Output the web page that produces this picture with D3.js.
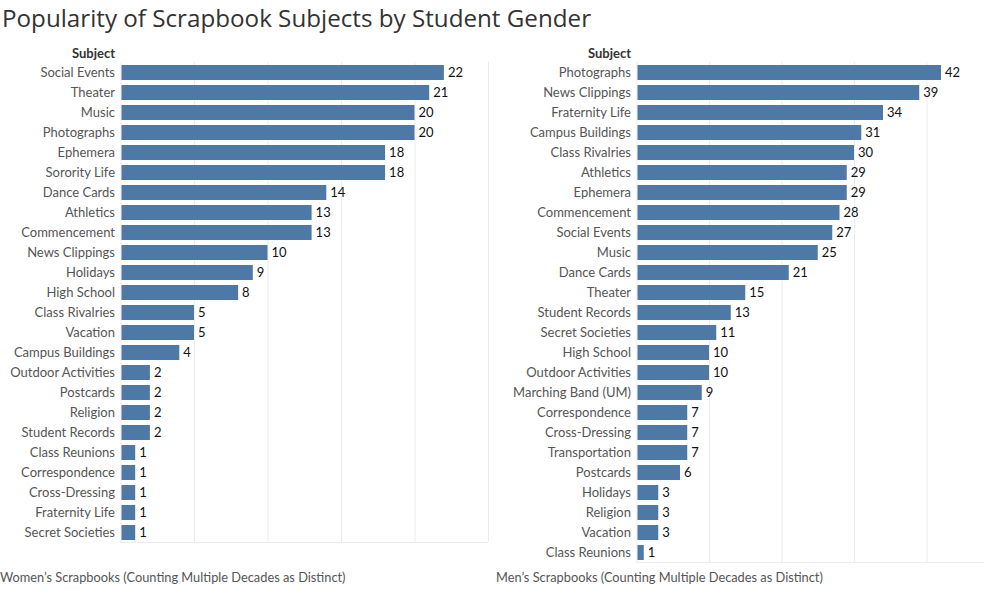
<!DOCTYPE html>
<html>
<head>
<meta charset="utf-8">
<script src="https://cdn.jsdelivr.net/npm/d3@7"></script>
<style>
  html, body { margin: 0; padding: 0; background: #fff; }
  svg { display: block; }
  text { font-family: Lato, "Open Sans", sans-serif; }
</style>
</head>
<body>
<svg id="chart" width="984" height="591"></svg>
<script>
const title = "Popularity of Scrapbook Subjects by Student Gender";

const womenSubjects = ["Social Events","Theater","Music","Photographs","Ephemera","Sorority Life","Dance Cards","Athletics","Commencement","News Clippings","Holidays","High School","Class Rivalries","Vacation","Campus Buildings","Outdoor Activities","Postcards","Religion","Student Records","Class Reunions","Correspondence","Cross-Dressing","Fraternity Life","Secret Societies"];
const womenValues = [22,21,20,20,18,18,14,13,13,10,9,8,5,5,4,2,2,2,2,1,1,1,1,1];
const womenTicks = [0,5,10,15,20,25];
const womenCaption = "Women\u2019s Scrapbooks (Counting Multiple Decades as Distinct)";

const menSubjects = ["Photographs","News Clippings","Fraternity Life","Campus Buildings","Class Rivalries","Athletics","Ephemera","Commencement","Social Events","Music","Dance Cards","Theater","Student Records","Secret Societies","High School","Outdoor Activities","Marching Band (UM)","Correspondence","Cross-Dressing","Transportation","Postcards","Holidays","Religion","Vacation","Class Reunions"];
const menValues = [42,39,34,31,30,29,29,28,27,25,21,15,13,11,10,10,9,7,7,7,6,3,3,3,1];
const menTicks = [0,10,20,30,40];
const menCaption = "Men\u2019s Scrapbooks (Counting Multiple Decades as Distinct)";

const svg = d3.select("#chart");
const barColor = "#4e79a7";
const gridColor = "#ebebeb";

svg.append("text")
  .attr("x", 2).attr("y", 27)
  .style("font-family", "'Open Sans', sans-serif")
  .style("font-size", "24.2px")
  .attr("fill", "#333")
  .text(title);

function panel(opts) {
  const {subjects, values, ticks, caption, x0, x1, domainMax, top, labelX, captionX, border} = opts;
  const data = subjects.map((s, i) => ({s, v: values[i]}));
  const x = d3.scaleLinear().domain([0, domainMax]).range([x0, x1]);
  const y = d3.scaleBand().domain(subjects)
    .range([top + 0.5, top + 0.5 + subjects.length * 20])
    .paddingInner(0.25).paddingOuter(0.125);
  const bottom = top + subjects.length * 20;
  const g = svg.append("g");

  // gridlines
  g.selectAll("line.grid").data(ticks).join("line")
    .attr("x1", d => x(d) + 0.5).attr("x2", d => x(d) + 0.5)
    .attr("y1", top).attr("y2", bottom)
    .attr("stroke", gridColor).attr("stroke-width", 1);
  if (border) {
    g.append("line")
      .attr("x1", x(domainMax) + 0.5).attr("x2", x(domainMax) + 0.5)
      .attr("y1", top).attr("y2", bottom)
      .attr("stroke", gridColor);
  }
  g.append("line")
    .attr("x1", x(0)).attr("x2", Math.min(x(domainMax), 984))
    .attr("y1", bottom + 0.5).attr("y2", bottom + 0.5)
    .attr("stroke", gridColor);

  // bars
  g.selectAll("rect").data(data).join("rect")
    .attr("x", x(0) + 1)
    .attr("y", d => y(d.s))
    .attr("width", d => x(d.v) - x(0) - 1)
    .attr("height", y.bandwidth())
    .attr("fill", barColor);

  // value labels
  g.selectAll("text.val").data(data).join("text")
    .attr("class", "val")
    .attr("x", d => x(d.v) + 4)
    .attr("y", d => y(d.s) + y.bandwidth() / 2)
    .attr("dy", "0.36em")
    .attr("font-size", 13)
    .attr("fill", "#111")
    .text(d => d.v);

  // category labels
  g.selectAll("text.cat").data(data).join("text")
    .attr("class", "cat")
    .attr("x", labelX)
    .attr("y", d => y(d.s) + y.bandwidth() / 2)
    .attr("dy", "0.36em")
    .attr("text-anchor", "end")
    .attr("font-size", 13)
    .attr("fill", "#555")
    .text(d => d.s);

  // header
  g.append("text")
    .attr("x", labelX).attr("y", 58)
    .attr("text-anchor", "end")
    .attr("font-size", 13)
    .attr("font-weight", "bold")
    .attr("fill", "#333")
    .text("Subject");

  // caption
  g.append("text")
    .attr("x", captionX).attr("y", 582)
    .attr("font-size", 12.8)
    .attr("fill", "#555")
    .text(caption);
}

panel({subjects: womenSubjects, values: womenValues, ticks: womenTicks, caption: womenCaption,
  x0: 120.5, x1: 488, domainMax: 25, top: 62, labelX: 115, captionX: 0, border: true});
panel({subjects: menSubjects, values: menValues, ticks: menTicks, caption: menCaption,
  x0: 636.5, x1: 636.5 + 362.5, domainMax: 50, top: 62, labelX: 631, captionX: 496, border: false});
</script>
</body>
</html>
